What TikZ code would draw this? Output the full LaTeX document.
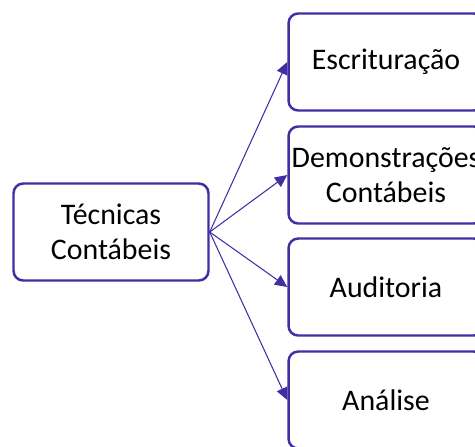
\documentclass[tikz,border=0pt]{standalone}
\usepackage{fontspec}
\setmainfont{Carlito}
\usetikzlibrary{arrows.meta}
\definecolor{boxblue}{RGB}{62,48,162}
\begin{document}
\begin{tikzpicture}[x=0.02cm,y=-0.02cm,
	tecbox/.style={draw=boxblue, line width=1.4pt, rounded corners=5.5pt, fill=white,
		minimum width=3.9cm, minimum height=1.94cm, align=center, inner sep=1pt,
		font=\fontsize{17}{20}\selectfont},
	tecarrow/.style={draw=boxblue, line width=0.6pt, -{Triangle[length=7pt,width=6.5pt]}}]
		\clip (0,0) rectangle (475,446);
		\useasboundingbox (0,0) rectangle (475,446);

		\node[tecbox] (tecnicas) at (111,232) {Técnicas\\Contábeis};

		\node[tecbox] (escrit) at (386,62) {Escrituração};
		\node[tecbox] (demonst) at (386,175) {Demonstrações\\Contábeis};
		\node[tecbox] (audit) at (386,287) {Auditoria};
		\node[tecbox] (analise) at (386,400) {Análise};

		\draw[tecarrow] (tecnicas.east) -- (escrit.west);
		\draw[tecarrow] (tecnicas.east) -- (demonst.west);
		\draw[tecarrow] (tecnicas.east) -- (audit.west);
		\draw[tecarrow] (tecnicas.east) -- (analise.west);

	\end{tikzpicture}
\end{document}
